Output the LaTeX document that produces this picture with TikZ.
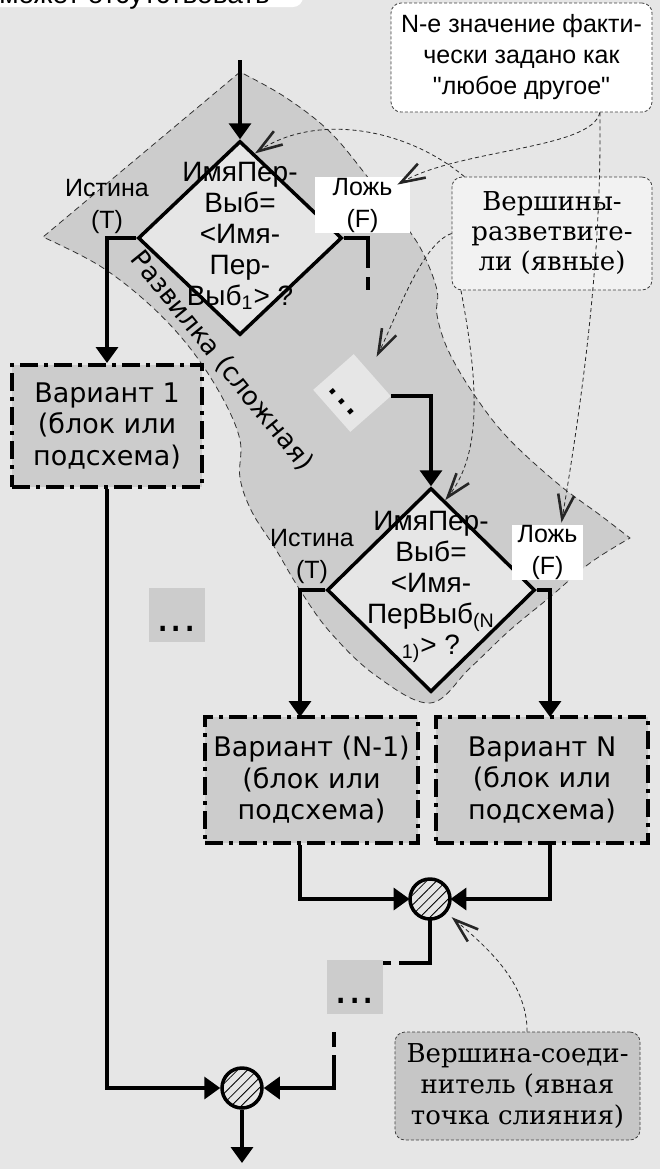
\documentclass[tikz,border=0pt]{standalone}
\usepackage{fontspec}
\setmainfont{DejaVu Sans}
\newfontfamily\lsans{Liberation Sans}
\newfontfamily\dserif{DejaVu Serif}
\definecolor{bggray}{RGB}{230,230,230}
\definecolor{areagray}{RGB}{204,204,204}
\definecolor{notegray}{RGB}{242,242,242}
\definecolor{mergegray}{RGB}{198,198,198}
\usetikzlibrary{arrows.meta, patterns.meta, calc, shapes.geometric}

\begin{document}
\begin{tikzpicture}[x=0.5pt, y=-0.5pt,
  var/.style={draw, fill=areagray, line width=2pt, dash pattern=on 9pt off 3pt on 2pt off 3pt, align=center, inner sep=0, font=\fontsize{13.5}{15.75}\selectfont},
  dia/.style={diamond, draw, fill=bggray, line width=1.75pt, inner sep=0},
  dtxt/.style={align=center, inner sep=0, font=\lsans\fontsize{14}{15.5}\selectfont},
  lbl/.style={align=center, inner sep=0, font=\lsans\fontsize{12.5}{16}\selectfont},
  arr/.style={-{Triangle[length=8pt,width=11pt]}, line width=1.75pt},
  ln/.style={line width=1.75pt},
  mrg/.style={circle, draw, line width=1.75pt, minimum size=20pt, inner sep=0, pattern={Lines[angle=45,distance=3.5pt,line width=0.4pt]}},
  dots/.style={fill=areagray, minimum width=28pt, minimum height=27pt, inner sep=0, text height=16pt, text depth=0pt, font=\fontsize{21}{21}\selectfont},
  note/.style={draw=black!75, line width=0.4pt, dash pattern=on 1.5pt off 1pt, rounded corners=5pt, align=center, inner sep=0},
  ann/.style={black!85, line width=0.4pt, dash pattern=on 2pt off 1.5pt, -{Straight Barb[length=12pt,width=8pt,line width=1.3pt]}}
]
  \useasboundingbox (0,0) rectangle (660,1169);
  \fill[bggray] (0,0) rectangle (660,1169);
  \clip (0,0) rectangle (660,1169);

  % ── Complex fork area ──
  \path[fill=areagray, draw=black!80, line width=0.4pt, dash pattern=on 3pt off 2pt]
    (240,72) -- (43,237)
    -- plot[smooth, tension=0.6] coordinates {(43,237) (100,266) (150,305) (190,348) (222,397) (240,440) (240,478) (252,512) (275,548) (300,590) (330,632) (375,675) (430,703) (470,668) (510,630) (550,597) (590,563) (630,538)}
    -- plot[smooth, tension=0.6] coordinates {(630,538) (600,515) (557,483) (507,437) (473,393) (448,350) (437,315) (437,290) (423,253) (405,225) (370,180) (330,132) (285,97) (240,72)}
    -- cycle;
  \node[rotate=-51, font=\fontsize{13}{15}\selectfont] (fork) at (222,361) {Развилка (сложная)};

  % ── Upper branch vertex ──
  \coordinate (in) at (240,60);
  \node[dia, minimum width=102pt, minimum height=97pt] (d1) at (240,238) {};
  \node[dtxt] (d1txt) at (240,236) {ИмяПер-\\Выб=\\<Имя-\\Пер-\\Выб\textsubscript{1}> ?};
  \node[lbl] (ist1) at (107,206) {Истина\\(T)};
  \node[lbl, fill=white, minimum width=47.5pt, minimum height=28pt] (lozh1) at (362.5,205) {Ложь\\(F)};

  \node[var, minimum width=95pt, minimum height=61pt] (v1) at (107,426) {Вариант 1\\(блок или\\подсхема)};
  \node[dots] (dots1) at (176.5,615) {...};
  \node[dots, fill=bggray, rotate=-48.6] (dots2) at (352,393) {...};

  % ── Lower branch vertex ──
  \node[dia, minimum width=104pt, minimum height=102pt] (d2) at (431,590) {};
  \node[dtxt] (d2txt) at (431,587) {ИмяПер-\\Выб=\\<Имя-\\ПерВыб\textsubscript{(N}\\\textsubscript{1)}> ?};
  \node[lbl] (ist2) at (312,556) {Истина\\(T)};
  \node[lbl, fill=white, minimum width=35.5pt, minimum height=27.5pt] (lozh2) at (547.5,552.5) {Ложь\\(F)};

  \node[var, minimum width=106.5pt, minimum height=63pt] (vn1) at (311.5,780) {Вариант (N-1)\\(блок или\\подсхема)};
  \node[var, minimum width=106pt, minimum height=63pt] (vn) at (542,780) {Вариант N\\(блок или\\подсхема)};

  % ── Merge vertices ──
  \node[mrg] (j1) at (430,899) {};
  \node[dots] (dots3) at (355,987) {...};
  \node[mrg] (j2) at (242,1088) {};
  \coordinate (out) at (242,1163);

  % ── Flow lines ──
  \draw[arr] (in) -- (d1.north);
  \draw[arr] (d1.west) -| (v1.north);
  \coordinate (f1) at (368,268);
  \coordinate (f1a) at (368,277);
  \coordinate (f1b) at (368,290);
  \draw[ln] (d1.east) -| (f1);
  \draw[ln] (f1a) -- (f1b);
  \draw[arr] (dots2.north east) -| (d2.north);

  \coordinate (t2) at (300,717);
  \coordinate (f2) at (550,717);
  \draw[arr] (d2.west) -| (t2);
  \draw[arr] (d2.east) -| (f2);
  \draw[arr] (t2 |- vn1.south) |- (j1.west);
  \draw[arr] (f2 |- vn.south) |- (j1.east);
  \draw[arr] (v1.south) |- (j2.west);

  \coordinate (g1) at (399,963);
  \coordinate (g2) at (391,963);
  \draw[ln] (j1.south) |- (g1);
  \draw[ln] (g2) -- (dots3.east |- g2);
  \coordinate (g3) at (334,1032);
  \coordinate (g4) at (334,1047);
  \coordinate (g5) at (334,1055);
  \draw[ln] (g3) -- (g4);
  \draw[arr] (g5) |- (j2.east);
  \draw[arr] (j2.south) -- (out);

  % ── Notes ──
  \fill[white, rounded corners=5pt] (-20,-60) rectangle (303,7);
  \node[anchor=base west, inner sep=0, font=\lsans\fontsize{14}{16}\selectfont] (miss) at (-1,3) {может отсутствовать};

  \node[note, fill=white, minimum width=130.5pt, minimum height=54.5pt, font=\lsans\fontsize{12.5}{15.5}\selectfont] (nnote) at (521.5,57.5) {N-е значение факти-\\чески задано как\\"любое другое"};
  \node[note, fill=notegray, minimum width=100pt, minimum height=56.5pt, font=\dserif\fontsize{13}{15}\selectfont] (vnote) at (552,233.5) {Вершины-\\разветвите-\\ли (явные)};
  \node[note, fill=mergegray, minimum width=122.5pt, minimum height=54pt, font=\dserif\fontsize{13}{15.5}\selectfont] (cnote) at (517.5,1086) {Вершина-соеди-\\нитель (явная\\точка слияния)};

  \draw[ann] (nnote.-35) .. controls +(-8,37) and +(63,-36) .. ([shift={(-13,8)}]lozh1.north east);
  \draw[ann] (nnote.-35) .. controls +(2,150) and +(20,-120) .. ([shift={(14,-2)}]lozh2.north);
  \draw[ann] (vnote.147) .. controls +(-60,-50) and +(60,-40) .. (d1.80);
  \draw[ann] (vnote.west) .. controls +(-30,10) and +(20,-40) .. ([shift={(4,-18)}]dots2.north);
  \draw[ann] (vnote.-148) .. controls +(15,80) and +(40,-50) .. (d2.81);
  \draw[ann] (cnote.80) .. controls +(0,-50) and +(35,30) .. ([shift={(6,5)}]j1.-40);
\end{tikzpicture}
\end{document}
